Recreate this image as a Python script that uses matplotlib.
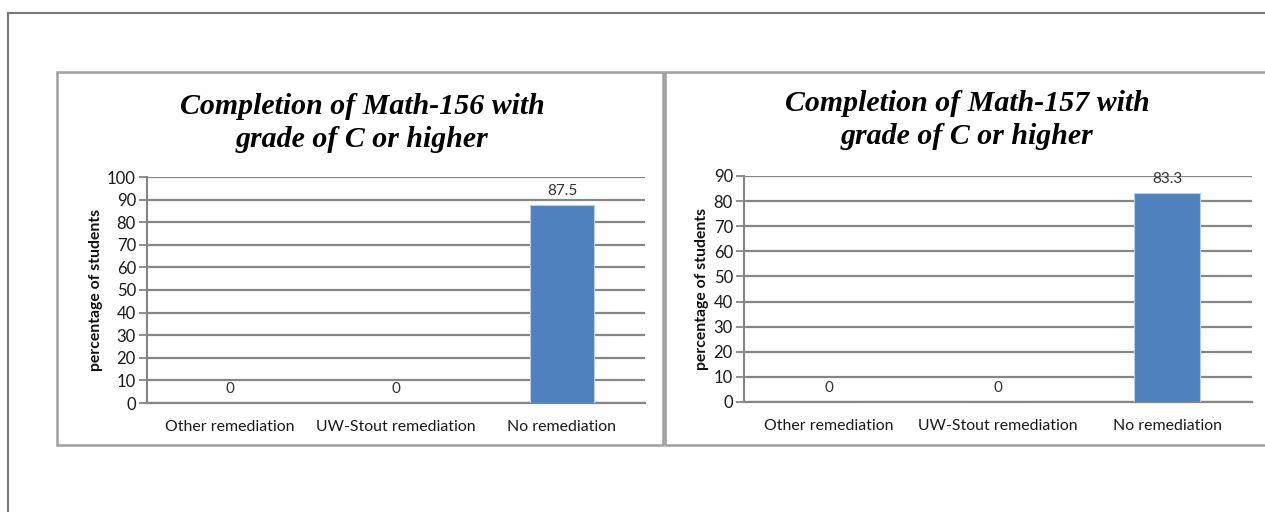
import matplotlib.pyplot as plt
from matplotlib.patches import Rectangle
from matplotlib.lines import Line2D

categories = ['Other remediation', 'UW-Stout remediation', 'No remediation']
math156 = [0, 0, 87.5]
math157 = [0, 0, 83.3]
labels156 = ['0', '0', '87.5']
labels157 = ['0', '0', '83.3']

W, H = 1265, 512
fig = plt.figure(figsize=(12.65, 5.12), dpi=100)
fig.patch.set_facecolor('white')

grid_col = '#868686'
bar_col = '#4f81bd'
box_col = '#a0a0a0'
tick_font = 'Lato'


def px(x0, y0, x1, y1):
    # pixel box -> figure fraction rect
    return [x0 / W, 1 - y1 / H, (x1 - x0) / W, (y1 - y0) / H]


# outer frame (top and left edges only visible)
fig.add_artist(Line2D([8 / W, 1], [1 - 13 / H, 1 - 13 / H], color='#7a7a7a', lw=1.5))
fig.add_artist(Line2D([8 / W, 8 / W], [0, 1 - 13 / H], color='#7a7a7a', lw=1.5))

# chart boxes
for (x0, y0, x1, y1) in [(57, 72, 663, 445), (665, 72, 1290, 445)]:
    r = px(x0, y0, x1, y1)
    fig.add_artist(Rectangle((r[0], r[1]), r[2], r[3], transform=fig.transFigure,
                             fill=False, edgecolor=box_col, lw=1.8))


def draw(rect, values, labels, ymax, title, title_xy):
    ax = fig.add_axes(px(*rect))
    x = range(len(categories))
    ax.bar(x, values, width=0.39, color=bar_col, edgecolor='#b9cde5', lw=0.8, zorder=3)
    ax.set_xlim(-0.5, 2.5)
    ax.set_ylim(0, ymax)
    ax.set_yticks(range(0, ymax + 1, 10))
    ax.yaxis.grid(True, color=grid_col, lw=1.6, zorder=0)
    for s in ['top', 'right']:
        ax.spines[s].set_visible(False)
    ax.spines['left'].set_color(grid_col)
    ax.spines['bottom'].set_color(grid_col)
    ax.spines['left'].set_linewidth(1.5)
    ax.spines['bottom'].set_linewidth(1.6)
    ax.tick_params(axis='y', length=6, width=1.3, color=grid_col, pad=2,
                   labelsize=12, labelcolor='#1a1a1a')
    ax.tick_params(axis='x', length=0, pad=12, labelsize=11.4, labelcolor='#1a1a1a')
    ax.set_xticks(list(x))
    ax.set_xticklabels(categories, fontfamily=tick_font)
    for t in ax.get_yticklabels():
        t.set_fontfamily(tick_font)
    ax.set_ylabel('percentage of students', fontsize=11.3, fontweight='bold',
                  fontfamily=tick_font, labelpad=3, color='#111111')
    for i, (v, lab) in enumerate(zip(values, labels)):
        ax.annotate(lab, (i, v), xytext=(0, 5), textcoords='offset points',
                    ha='center', va='bottom', fontsize=11,
                    fontfamily=tick_font, color='#333333', zorder=4)
    fig.text(title_xy[0] / W, 1 - title_xy[1] / H, title, ha='center', va='center',
             fontsize=21.5, fontweight='bold', fontstyle='italic',
             fontfamily='Liberation Serif', linespacing=1.3)
    return ax


draw((147, 177, 645, 403), math156, labels156, 100,
     'Completion of Math-156 with\ngrade of C or higher', (362, 123))
draw((744, 176, 1252, 402), math157, labels157, 90,
     'Completion of Math-157 with\ngrade of C or higher', (967, 120))

plt.savefig('out.png', dpi=100)
